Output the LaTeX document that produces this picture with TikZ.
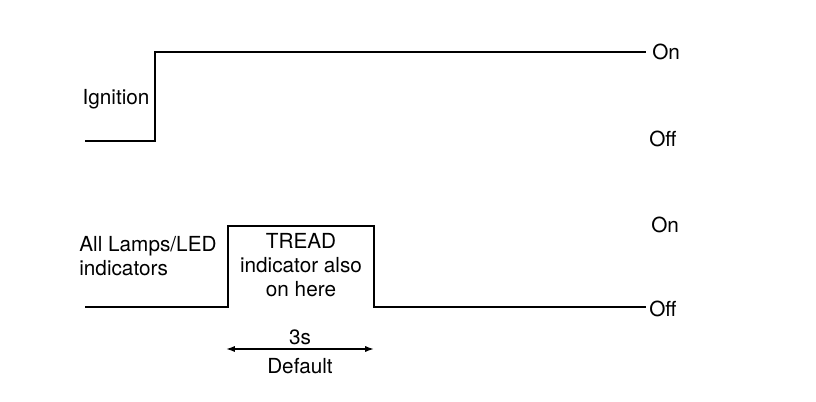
\documentclass[tikz,border=0pt]{standalone}
\usepackage{fontspec}
\setmainfont{TeX Gyre Heros}
\usetikzlibrary{arrows.meta}
\begin{document}
\begin{tikzpicture}[x=0.02cm,y=-0.02cm,
  wave/.style={line width=1.2pt,line cap=rect},
  lbl/.style={font=\fontsize{11.8}{13.8}\selectfont,inner sep=0},
  state/.style={lbl,anchor=west},
  span/.style={line width=0.9pt,{Latex[length=5pt,width=3.5pt]}-{Latex[length=5pt,width=3.5pt]}}]
\useasboundingbox (0,0) rectangle (816,402);
% ignition trace
\coordinate (i0) at (86,141);
\coordinate (i1) at (155,141);
\coordinate (i2) at (155,52);
\coordinate (i3) at (645,52);
\draw[wave] (i0) -- (i1) -- (i2) -- (i3);
\node[lbl] (ign) at (116,99) {Ignition};
\node[state] (ignon) at (652,52) {On};
\node[state] (ignoff) at (649,139) {Off};
% lamp trace with the 3s pulse
\coordinate (l0) at (86,307);
\coordinate (l1) at (228,307);
\coordinate (l2) at (228,226);
\coordinate (l3) at (374,226);
\coordinate (l4) at (374,307);
\coordinate (l5) at (645,307);
\draw[wave] (l0) -- (l1) -- (l2) -- (l3) -- (l4) -- (l5);
\node[lbl,align=left,anchor=north west] (lamps) at (79,236) {All Lamps/LED\\indicators};
\node[lbl,align=center,anchor=north] (tread) at (301,233) {TREAD\\indicator also\\on here};
\node[state] (lampon) at (651,225) {On};
\node[state] (lampoff) at (649,309) {Off};
% duration arrow
\coordinate (d0) at (226,349);
\coordinate (d1) at (374,349);
\draw[span] (d0) -- (d1);
\node[lbl] (dur) at (300,337) {3s};
\node[lbl] (dflt) at (300,366) {Default};
\end{tikzpicture}
\end{document}
